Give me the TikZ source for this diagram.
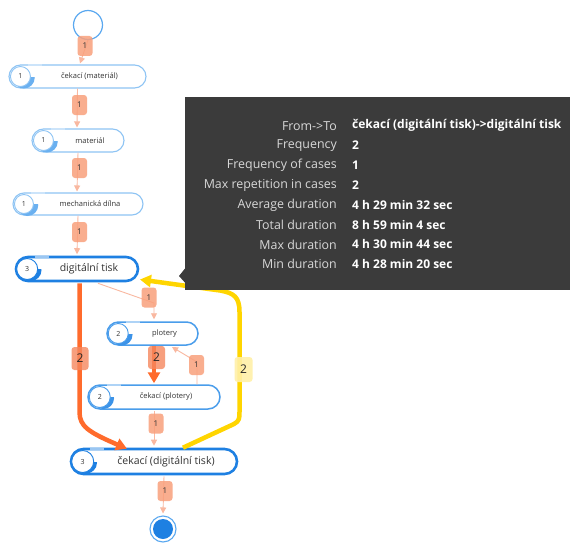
\documentclass[tikz,border=0pt]{standalone}
\usepackage{fontspec}
\setmainfont{Open Sans}
\usetikzlibrary{shapes.misc,arrows.meta,calc}
\definecolor{bda}{HTML}{8EC4F4}
\definecolor{bdb}{HTML}{4A9DEB}
\definecolor{bdc}{HTML}{1E80E2}
\definecolor{cra}{HTML}{6AB0F0}
\definecolor{crb}{HTML}{3C93E8}
\definecolor{crc}{HTML}{1E80E2}
\definecolor{salmon}{HTML}{F9B8A0}
\definecolor{lblor}{HTML}{F9A07C}
\definecolor{thickor}{HTML}{FF6B2C}
\definecolor{thicklbl}{HTML}{F5875E}
\definecolor{yell}{HTML}{FFD500}
\definecolor{yelllbl}{HTML}{FFF0A8}
\definecolor{tipgray}{HTML}{3B3B3B}
\definecolor{tiplab}{HTML}{D8D8D8}
\definecolor{startc}{HTML}{5AA8F0}
\def\lwa{1.1}\def\lwb{1.5}\def\lwc{2.6}
\tikzset{
  pill/.style={rounded rectangle, fill=white, inner sep=0pt, text=black!80},
  thinedge/.style={draw=salmon, line width=0.9, -{Triangle[length=6,width=6]}},
  thickedge/.style={draw=thickor, line width=4.5, -{Triangle[length=11,width=12]}},
  yelledge/.style={draw=yell, line width=4.5, -{Triangle[length=11,width=12]}},
  olbl/.style={fill=lblor, fill opacity=0.85, text opacity=1, rounded corners=3, minimum width=15, minimum height=20, inner sep=0pt, font=\fontsize{8}{9}\selectfont, text=black!80},
  tlbl/.style={fill=thicklbl, fill opacity=0.8, text opacity=1, rounded corners=3, minimum width=17, minimum height=23, inner sep=0pt, font=\fontsize{12}{13}\selectfont, text=black!85},
  ylbl/.style={fill=yelllbl, fill opacity=0.9, text opacity=1, rounded corners=3, minimum width=18, minimum height=25, inner sep=0pt, font=\fontsize{12}{13}\selectfont, text=black!85},
  tipl/.style={anchor=east, text=tiplab, font=\fontsize{12.4}{14}\selectfont, inner sep=0pt},
  tipv/.style={anchor=west, text=white, font=\bfseries\fontsize{12}{14}\selectfont, inner sep=0pt},
}
% #1 name, #2 x, #3 y, #4 w, #5 h, #6 level, #7 number, #8 text, #9 font size
\newcommand\mkpill[9]{%
  \node[pill, draw=bd#6, line width=\csname lw#6\endcsname, minimum width=#4, minimum height=#5,
        font=\fontsize{#9}{#9}\selectfont] (#1) at (#2,#3) {\hspace*{24pt}#8};
  \coordinate (#1c) at ($(#1.west)+(#5/2,0)$);
  \begin{scope}
    \clip ($(#1c)+(-14,0.5)$) rectangle ($(#1c)+(26,14)$);
    \fill[cr#6] ($(#1c)+(4,1.2)$) circle (10.8pt);
  \end{scope}
  \draw[white!55!bd#6, line width=\csname lw#6\endcsname] ($(#1c)+(8,-#5/2)$) -- ++(14,0);
  \node[circle, fill=white, draw=bd#6, line width=0.9, minimum size=#5-3, inner sep=0pt,
        font=\fontsize{7}{8}\selectfont, text=black!80] (#1n) at ($(#1c)+(0.5,0)$) {#7};
}
\begin{document}
\begin{tikzpicture}[x=1pt,y=-1pt]
\useasboundingbox (0,0) rectangle (570,543);
\fill[white] (0,0) rectangle (570,543);

% start circle
\node[circle, draw=startc, line width=1.2, fill=white, minimum size=29, inner sep=0pt] (st) at (88,25) {};

% nodes
\mkpill{cm}{77.5}{76.5}{137}{23}{a}{1}{čekací (materiál)}{7.5}
\mkpill{mat}{78}{140.5}{92}{23}{a}{1}{materiál}{7.5}
\mkpill{md}{78}{204}{130}{22}{a}{1}{mechanická dílna}{7.5}
\mkpill{dt}{77}{269}{122}{24}{c}{3}{digitální tisk}{10.5}
\mkpill{pl}{152.5}{333.5}{91}{23}{b}{2}{plotery}{7.5}
\mkpill{cp}{154}{397}{132}{24}{b}{2}{čekací (plotery)}{7.5}
\mkpill{cdt}{154}{461.5}{166}{25}{c}{3}{čekací (digitální tisk)}{10.5}

% end circle
\node[circle, draw=startc, line width=1.1, fill=white, minimum size=26, inner sep=0pt] (en) at (163,529) {};
\node[circle, fill=bdc, minimum size=20, inner sep=0pt] (enin) at (en.center) {};

% thin edges
\draw[thinedge] (st.south) -- ($(cm.north)+(2.5,-1)$);
\draw[thinedge] (cm.south) -- ($(mat.north)+(-1,-1)$);
\draw[thinedge] (mat.south) -- ($(md.north)+(-1,-1)$);
\draw[thinedge] (md.south) -- ($(dt.north)+(0,-1.5)$);
\draw[thinedge] ($(dt.south east)+(-28,1)$) -- (154,303) -- ($(pl.north)+(1.5,-2)$);
\draw[thinedge] ($(cp.north)+(43,0)$) -- (197,362) -- (172,347);
\draw[thinedge] ($(cp.south)+(0,1)$) -- ($(cdt.north)+(0,-2)$);
\draw[thinedge] ($(cdt.south)+(10,1)$) -- ($(en.north)+(0,-2)$);

% thick edges
\draw[thickedge] ($(dt.south)+(2.5,1)$) -- (79.5,412) .. controls (79.5,426) and (88,432) .. ($(cdt.north)+(-27,1)$);
\draw[thickedge] ($(pl.south)+(1.5,0)$) -- ($(cp.north)+(0,-1)$);
\draw[yelledge] ($(cdt.north)+(29,0)$) -- (234,424) .. controls (239.5,421) and (239.5,418) .. (239.5,412)
  -- (239.5,312) .. controls (239.5,297) and (234,293) .. (220,290.5) -- (140,279.5);

% tooltip
\node[fill=tipgray, minimum width=385, minimum height=193, inner sep=0pt] (tip) at (377.5,193.5) {};
\fill[tipgray] ($(tip.west)+(1,74)$) -- (179,276) -- ($(tip.west)+(1,90)$) -- cycle;
\foreach \i/\l/\v/\y in {1/From->To/čekací (digitální tisk)->digitální tisk/125.7,
  2/Frequency/2/145.5, 3/Frequency of cases/1/165.3, 4/Max repetition in cases/2/185,
  5/Average duration/4 h 29 min 32 sec/204.8, 6/Total duration/8 h 59 min 4 sec/224.6,
  7/Max duration/4 h 30 min 44 sec/244.4, 8/Min duration/4 h 28 min 20 sec/264.2}{
  \node[tipl] (tl\i) at (337,\y) {\l};
  \node[tipv] (tv\i) at (352,\y) {\v};
}

% labels
\node[olbl] (l1) at (85,46) {1};
\node[olbl] (l2) at (79.5,105) {1};
\node[olbl] (l3) at (79.5,168) {1};
\node[olbl] (l4) at (79.5,232) {1};
\node[olbl] (l5) at (149,297.5) {1};
\node[olbl] (l6) at (196.5,365) {1};
\node[olbl] (l7) at (156,423.5) {1};
\node[olbl] (l8) at (165,491) {1};
\node[tlbl] (l9) at (80,358.5) {2};
\node[tlbl] (l10) at (156.5,357.5) {2};
\node[ylbl] (l11) at (243.5,369.5) {2};
\end{tikzpicture}
\end{document}
